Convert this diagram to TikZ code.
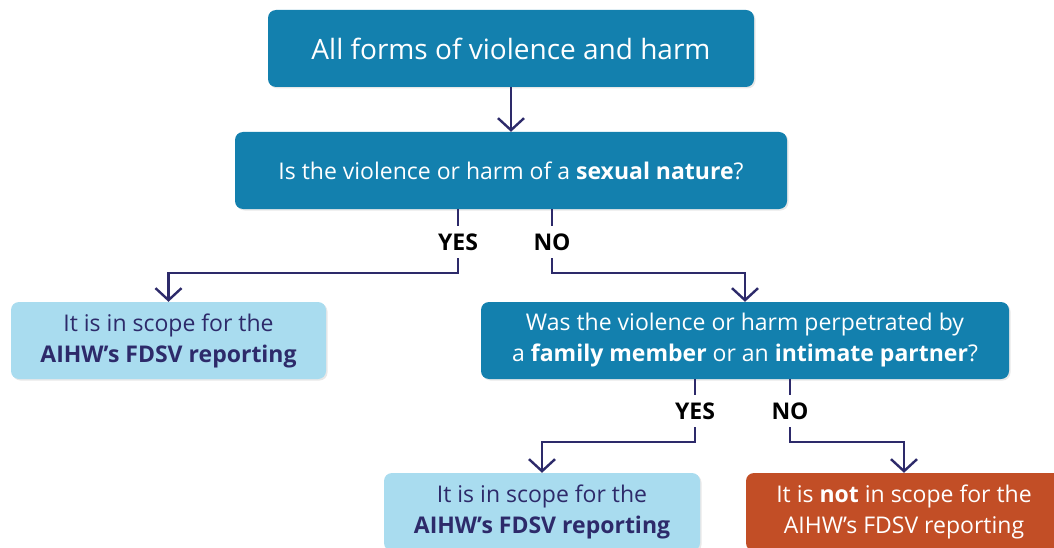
\documentclass[tikz,border=0pt]{standalone}
\usepackage{fontspec}
\setmainfont{Open Sans}
\usetikzlibrary{arrows.meta,shadows,calc}
\definecolor{dkblue}{HTML}{1380AE}
\definecolor{ltblue}{HTML}{A9DCEF}
\definecolor{orng}{HTML}{C24E26}
\definecolor{navy}{HTML}{2D2A6A}
\begin{document}
\begin{tikzpicture}[x=1pt,y=-1pt,
  box/.style={rounded corners=8pt, minimum height=77pt, inner sep=0pt, align=center,
    font=\fontsize{23}{31}\selectfont,
    drop shadow={shadow xshift=1.5pt,shadow yshift=-1.5pt,opacity=0.18}},
  dark/.style={box, fill=dkblue, text=white},
  light/.style={box, fill=ltblue, text=navy},
  warn/.style={box, fill=orng, text=white},
  lbl/.style={font=\fontsize{23}{28}\selectfont\bfseries, text=black, inner sep=0pt,
    minimum height=32pt, text height=16.4pt, text depth=0pt},
  ln/.style={draw=navy, line width=2.4pt},
  arr/.style={ln, -{Straight Barb[length=12pt, width=26pt, line width=2.4pt]}}]
\useasboundingbox (0,0) rectangle (1054,548);
\clip (0,0) rectangle (1054,548);
\node[dark, minimum width=486pt, font=\fontsize{28}{34}\selectfont] (top) at (511,48.5) {All forms of violence and harm};
\node[dark, minimum width=552pt] (q1) at (511,170.5) {Is the violence or harm of a \textbf{sexual nature}?};
\node[light, minimum width=315pt] (left) at (168.5,340.5) {It is in scope for the\\\textbf{AIHW’s FDSV reporting}};
\node[dark, minimum width=528pt] (q2) at (745,340.5) {Was the violence or harm perpetrated by\\a \textbf{family member} or an \textbf{intimate partner}?};
\node[light, minimum width=316pt, minimum height=78pt] (bl) at (542,512) {It is in scope for the\\\textbf{AIHW’s FDSV reporting}};
\node[warn, minimum width=316pt, minimum height=78pt] (br) at (904,512) {It is \textbf{not} in scope for the\\AIHW’s FDSV reporting};
\node[lbl] (yes1) at (458,242) {YES};
\node[lbl] (no1) at (552,242) {NO};
\node[lbl] (yes2) at (695,411) {YES};
\node[lbl] (no2) at (790,411) {NO};
\draw[arr] (top.south) -- (q1.north);
\draw[ln] (q1.south -| yes1) -- (yes1.north);
\draw[ln] (q1.south -| no1) -- (no1.north);
\draw[arr] (yes1.south) -- ++(0,15) -| (left.north);
\draw[arr] (no1.south) -- ++(0,15) -| (q2.north);
\draw[ln] (q2.south -| yes2) -- (yes2.north);
\draw[ln] (q2.south -| no2) -- (no2.north);
\draw[arr] (yes2.south) -- ++(0,15) -| (bl.north);
\draw[arr] (no2.south) -- ++(0,15) -| (br.north);
\end{tikzpicture}
\end{document}
